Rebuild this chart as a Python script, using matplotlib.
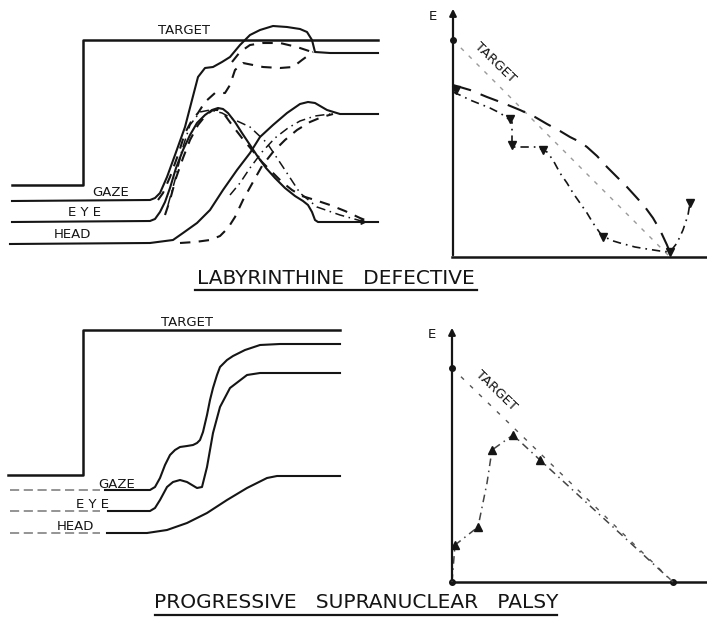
import numpy as np
import matplotlib.pyplot as plt

# ---- data (picture coordinates, px) ----
# top left: labyrinthine defective, time traces
target1_x = [12, 83, 83, 378]
target1_y = [185, 185, 40, 40]

gaze1_x = [12, 150, 155, 160, 167, 175, 185, 192, 198, 205, 213, 222, 230, 240, 250,
           260, 273, 287, 300, 307, 312, 315, 330, 378]
gaze1_y = [201, 200, 198, 193, 177, 155, 127, 100, 77, 68, 67, 62, 57, 45, 35,
           30, 26, 27, 29, 32, 40, 52, 53, 53]
gaze1a_x = [158, 163, 170, 178, 185, 192, 198, 205, 215, 225, 230, 235, 243, 263, 280, 293, 302, 313]
gaze1a_y = [200, 193, 177, 155, 133, 120, 113, 102, 93, 93, 85, 70, 63, 67, 68, 67, 60, 52]
gaze1b_x = [232, 240, 250, 263, 280, 297, 312]
gaze1b_y = [62, 52, 45, 43, 43, 47, 52]

eye1_x = [12, 150, 155, 160, 165, 170, 176, 183, 190, 197, 205, 212, 218, 223, 228, 235,
          242, 250, 258, 266, 275, 285, 295, 303, 308, 312, 315, 318, 378]
eye1_y = [222, 221, 219, 212, 202, 188, 168, 150, 135, 123, 115, 110, 108, 109, 113, 122,
          133, 145, 157, 168, 178, 188, 196, 201, 205, 212, 220, 222, 222]
eye1a_x = [165, 170, 176, 183, 190, 198, 206, 213, 218, 224, 232, 242, 252, 262, 272, 282,
           292, 302, 315, 330, 345, 360, 370]
eye1a_y = [215, 200, 178, 158, 140, 125, 115, 110, 110, 114, 125, 138, 150, 162, 172, 182,
           190, 196, 200, 205, 211, 218, 222]
eye1b_x = [168, 175, 182, 190, 200, 210, 222, 235, 250, 267, 283, 300, 317, 340, 365]
eye1b_y = [205, 180, 150, 125, 112, 110, 113, 120, 127, 143, 167, 193, 207, 215, 222]

head1_x = [10, 150, 173, 183, 197, 210, 223, 237, 250, 260, 273, 287, 300, 308, 315, 327, 340, 378]
head1_y = [244, 243, 240, 233, 223, 210, 190, 170, 153, 137, 125, 113, 104, 102, 103, 110, 114, 114]
head1a_x = [180, 195, 210, 220, 228, 235, 243, 253, 262, 273, 285, 297, 310, 322, 333]
head1a_y = [243, 242, 240, 236, 228, 217, 200, 182, 166, 152, 140, 130, 122, 117, 114]
head1b_x = [230, 240, 250, 262, 275, 288, 300, 315, 330]
head1b_y = [195, 183, 168, 152, 138, 128, 121, 116, 114]

# top right: phase plane
tgt1_line_x = [453, 670]
tgt1_line_y = [40, 257]
longdash1_x = [453, 470, 487, 503, 520, 535, 547, 560, 570, 580, 587, 597, 607, 617, 627,
               637, 645, 653, 660, 667, 671]
longdash1_y = [85, 90, 97, 103, 110, 117, 124, 131, 137, 142, 147, 156, 167, 177, 187,
               198, 207, 218, 230, 245, 255]
dashdot1_x = [453, 462, 470, 480, 490, 500, 510, 512, 512, 537, 547, 553, 560, 567, 573, 580,
              587, 593, 600, 610, 620, 635, 647, 660, 670, 677, 683, 688, 690]
dashdot1_y = [92, 96, 100, 104, 108, 113, 120, 122, 147, 147, 152, 160, 173, 183, 193, 203,
              213, 223, 233, 240, 243, 247, 249, 251, 252, 243, 230, 215, 203]
blob1_x = [456, 510, 512, 543, 603, 670, 690]
blob1_y = [90, 119, 145, 150, 237, 252, 203]

# bottom left: progressive supranuclear palsy, time traces
target2_x = [8, 83, 83, 340]
target2_y = [475, 475, 330, 330]
gaze2_x = [105, 150, 155, 160, 165, 170, 175, 180, 187, 193, 197, 200, 203, 207, 210, 213,
           217, 220, 227, 233, 245, 260, 280, 340]
gaze2_y = [490, 490, 487, 478, 465, 455, 450, 447, 446, 445, 443, 440, 432, 415, 400, 388,
           375, 367, 360, 356, 350, 345, 344, 344]
eye2_x = [108, 150, 155, 160, 167, 173, 180, 187, 197, 202, 207, 213, 220, 230, 247, 260, 340]
eye2_y = [511, 511, 508, 500, 487, 482, 480, 482, 488, 487, 467, 433, 407, 388, 375, 373, 373]
head2_x = [107, 147, 167, 187, 207, 227, 247, 267, 277, 340]
head2_y = [533, 533, 530, 523, 513, 500, 488, 478, 476, 476]
lead2_x = [10, 100]
lead2_y = [490, 511, 533]

# bottom right: phase plane
tgt2_line_x = [452, 673]
tgt2_line_y = [368, 582]
path2_x = [452, 455, 478, 487, 492, 513, 540, 673]
path2_y = [582, 545, 527, 483, 450, 435, 460, 582]
blob2_x = [455, 478, 492, 513, 540]
blob2_y = [545, 527, 450, 435, 460]

ink = '#151515'
lw = 1.5

fig = plt.figure(figsize=(7.07, 6.17), dpi=100)
ax = fig.add_axes([0, 0, 1, 1])
ax.set_xlim(0, 707)
ax.set_ylim(617, 0)
ax.axis('off')

# time traces, top
ax.plot(target1_x, target1_y, color=ink, lw=1.8)
ax.plot(gaze1_x, gaze1_y, color=ink, lw=lw)
ax.plot(gaze1a_x, gaze1a_y, color=ink, lw=lw, ls=(0, (5, 4)))
ax.plot(gaze1b_x, gaze1b_y, color=ink, lw=lw, ls=(0, (5, 4)))
ax.plot(eye1_x, eye1_y, color=ink, lw=lw)
ax.plot(eye1a_x, eye1a_y, color=ink, lw=lw, ls=(0, (5, 4)))
ax.plot(eye1b_x, eye1b_y, color=ink, lw=1.1, ls=(0, (6, 3, 1, 3)))
ax.plot(head1_x, head1_y, color=ink, lw=lw)
ax.plot(head1a_x, head1a_y, color=ink, lw=lw, ls=(0, (5, 4)))
ax.plot(head1b_x, head1b_y, color=ink, lw=1.1, ls=(0, (6, 3, 1, 3)))
ax.annotate('', xy=(370, 222), xytext=(355, 222),
            arrowprops=dict(arrowstyle='-|>', color=ink, lw=1, mutation_scale=8))

lab = dict(color=ink, fontsize=9.5, ha='center', va='center')
ax.text(184, 30, 'TARGET', **lab)
ax.text(111, 193, 'GAZE', **lab)
ax.text(84, 213, 'E Y E', **lab)
ax.text(72, 235, 'HEAD', **lab)

# phase plane, top
ax.annotate('', xy=(453, 6), xytext=(453, 258),
            arrowprops=dict(arrowstyle='-|>', color=ink, lw=1.6, mutation_scale=10))
ax.plot([452, 707], [257, 257], color=ink, lw=1.8)
ax.text(433, 17, 'E', **lab)
ax.plot(tgt1_line_x, tgt1_line_y, color='#9a9a9a', lw=1, ls=(0, (3, 5)))
ax.plot(tgt1_line_x[:1], tgt1_line_y[:1], 'o', color=ink, ms=4)
ax.text(495, 63, 'TARGET', rotation=-44, **lab)
ax.plot(longdash1_x, longdash1_y, color=ink, lw=lw, ls=(0, (9, 5)))
ax.plot(dashdot1_x, dashdot1_y, color=ink, lw=1.2, ls=(0, (5, 3, 1, 3)))
ax.plot(blob1_x, blob1_y, ls='none', marker='v', color=ink, ms=6)

# time traces, bottom
ax.plot(target2_x, target2_y, color=ink, lw=1.8)
for ly in lead2_y:
    ax.plot(lead2_x, [ly, ly], color='#777777', lw=1.1, ls=(0, (6, 3)))
ax.plot(gaze2_x, gaze2_y, color=ink, lw=lw)
ax.plot(eye2_x, eye2_y, color=ink, lw=lw)
ax.plot(head2_x, head2_y, color=ink, lw=lw)
ax.text(187, 322, 'TARGET', **lab)
ax.text(117, 484, 'GAZE', **lab)
ax.text(93, 505, 'E Y E', **lab)
ax.text(75, 527, 'HEAD', **lab)

# phase plane, bottom
ax.annotate('', xy=(452, 325), xytext=(452, 583),
            arrowprops=dict(arrowstyle='-|>', color=ink, lw=1.6, mutation_scale=10))
ax.plot([451, 707], [582, 582], color=ink, lw=1.8)
ax.text(432, 335, 'E', **lab)
ax.plot(tgt2_line_x, tgt2_line_y, color='#555555', lw=1, ls=(0, (3, 6)))
ax.plot(tgt2_line_x, tgt2_line_y, 'o', color=ink, ms=4)
ax.plot([452], [582], 'o', color=ink, ms=4)
ax.text(496, 391, 'TARGET', rotation=-44, **lab)
ax.plot(path2_x, path2_y, color='#444444', lw=1.1, ls=(0, (5, 3, 1, 3)))
ax.plot(blob2_x, blob2_y, ls='none', marker='^', color=ink, ms=6)

# panel titles
ttl = dict(color=ink, fontsize=14.5, ha='center', va='center')
ax.text(336, 279, 'LABYRINTHINE   DEFECTIVE', **ttl)
ax.plot([195, 477], [290, 290], color=ink, lw=1.6)
ax.text(356, 603, 'PROGRESSIVE   SUPRANUCLEAR   PALSY', **ttl)
ax.plot([155, 557], [615, 615], color=ink, lw=1.6)

fig.savefig('out.png', dpi=100, facecolor='white')
